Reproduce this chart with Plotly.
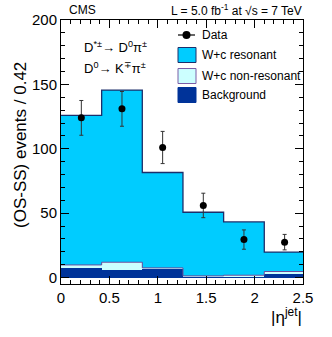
import plotly.graph_objects as go

# |eta^jet| bins of width 0.42
bin_centers = [0.21, 0.63, 1.05, 1.47, 1.89, 2.31]
bin_width = 0.42

# stacked components (OS-SS events / 0.42)
background = [7.3, 6.2, 7.3, 1.0, 0.5, 3.5]
wc_nonres = [2.5, 5.7, 0.2, 0.3, 1.3, 1.2]
wc_res = [116.2, 133.6, 74.1, 49.4, 41.4, 15.1]

data_y = [124, 131, 101, 56, 29.5, 27.5]
data_err = [13.5, 13.5, 12.5, 9.5, 7.5, 6.0]

FONT = 'Liberation Sans, Arial, sans-serif'
RES_COL = '#00ccff'
NONRES_COL = '#ccffff'
BKG_COL = '#003399'
EDGE_COL = '#1c2f6b'

# cumulative tops for outline step lines
cum_nonres = [b + n for b, n in zip(background, wc_nonres)]
cum_total = [c + r for c, r in zip(cum_nonres, wc_res)]
edges = [c - bin_width / 2 for c in bin_centers] + [bin_centers[-1] + bin_width / 2]


def step(vals):
    return vals + [vals[-1]]


traces = [
    go.Bar(x=bin_centers, y=background, width=bin_width, marker=dict(color=BKG_COL, line=dict(width=0)),
           showlegend=False),
    go.Bar(x=bin_centers, y=wc_nonres, width=bin_width, marker=dict(color=NONRES_COL, line=dict(width=0)),
           showlegend=False),
    go.Bar(x=bin_centers, y=wc_res, width=bin_width, marker=dict(color=RES_COL, line=dict(width=0)),
           showlegend=False),
    go.Scatter(x=edges, y=step(cum_nonres), mode='lines', line=dict(shape='hv', color='#6a4c9c', width=1),
               showlegend=False, hoverinfo='skip'),
    go.Scatter(x=edges, y=step(cum_total), mode='lines', line=dict(shape='hv', color=EDGE_COL, width=1.3),
               showlegend=False, hoverinfo='skip'),
    go.Scatter(x=bin_centers, y=data_y, mode='markers',
               marker=dict(color='black', size=7),
               error_y=dict(type='data', array=data_err, color='#333333', thickness=1, width=2),
               showlegend=False),
]

fig = go.Figure(data=traces)


def px_x(p):
    return (p - 61) / 242.0


def px_y(p):
    return (284 - p) / 264.0


shapes = []
annotations = []

# legend: Data
shapes.append(dict(type='line', xref='paper', yref='paper', x0=px_x(178), x1=px_x(195), y0=px_y(35), y1=px_y(35),
                   line=dict(color='black', width=1.2)))
shapes.append(dict(type='circle', xref='paper', yref='paper', x0=px_x(182.5), x1=px_x(190.5), y0=px_y(31), y1=px_y(39),
                   fillcolor='black', line=dict(color='black', width=0)))
legend_items = [('W+c resonant', RES_COL, EDGE_COL, 55),
                ('W+c non-resonant', NONRES_COL, '#7b5ea7', 76),
                ('Background', BKG_COL, BKG_COL, 95)]
for label, fill, edge, yc in legend_items:
    shapes.append(dict(type='rect', xref='paper', yref='paper', x0=px_x(178), x1=px_x(196),
                       y0=px_y(yc + 7.5), y1=px_y(yc - 7.5), fillcolor=fill, line=dict(color=edge, width=1)))
    annotations.append(dict(xref='paper', yref='paper', x=px_x(200), y=px_y(yc), text=label, showarrow=False,
                            xanchor='left', yanchor='middle', font=dict(size=12, family=FONT, color='black')))
annotations.append(dict(xref='paper', yref='paper', x=px_x(200), y=px_y(35), text='Data', showarrow=False,
                        xanchor='left', yanchor='middle', font=dict(size=12, family=FONT, color='black')))

annotations += [
    dict(xref='paper', yref='paper', x=px_x(67), y=px_y(10), text='CMS', showarrow=False,
         xanchor='left', yanchor='middle', font=dict(size=12, family=FONT, color='black')),
    dict(xref='paper', yref='paper', x=px_x(304), y=px_y(10), text='L = 5.0 fb<sup>-1</sup> at √s = 7 TeV',
         showarrow=False, xanchor='right', yanchor='middle', font=dict(size=12, family=FONT, color='black')),
    dict(xref='paper', yref='paper', x=px_x(82), y=px_y(47), text='D<sup>*±</sup>→ D<sup>0</sup>π<sup>±</sup>',
         showarrow=False, xanchor='left', yanchor='middle', font=dict(size=13, family=FONT, color='black')),
    dict(xref='paper', yref='paper', x=px_x(82), y=px_y(68), text='D<sup>0</sup>→ K<sup>∓</sup>π<sup>±</sup>',
         showarrow=False, xanchor='left', yanchor='middle', font=dict(size=13, family=FONT, color='black')),
    dict(xref='paper', yref='paper', x=px_x(304), y=px_y(316), text='|η<sup>jet</sup>|',
         showarrow=False, xanchor='right', yanchor='middle', font=dict(size=17, family=FONT, color='black')),
    dict(xref='paper', yref='paper', x=px_x(20), y=px_y(145), text='(OS-SS) events / 0.42', textangle=-90,
         showarrow=False, xanchor='center', yanchor='middle', font=dict(size=17, family=FONT, color='black')),
]

fig.update_layout(
    width=332,
    height=337,
    barmode='stack',
    bargap=0,
    plot_bgcolor='white',
    paper_bgcolor='white',
    margin=dict(l=61, r=29, t=20, b=53),
    showlegend=False,
    shapes=shapes,
    annotations=annotations,
    font=dict(family=FONT, color='black'),
    xaxis=dict(
        range=[0, 2.5], tickvals=[0, 0.5, 1, 1.5, 2, 2.5], ticktext=['0', '0.5', '1', '1.5', '2', '2.5'],
        ticks='inside', ticklen=8, tickcolor='black', showgrid=False, zeroline=False,
        showline=True, linecolor='black', linewidth=1, mirror='allticks', automargin=False,
        tickfont=dict(size=15, family=FONT),
        minor=dict(dtick=0.1, ticks='inside', ticklen=4, tickcolor='black', showgrid=False),
    ),
    yaxis=dict(
        range=[-5, 200], tickvals=[0, 50, 100, 150, 200],
        ticks='inside', ticklen=8, tickcolor='black', showgrid=False,
        zeroline=True, zerolinecolor='#333333', zerolinewidth=1,
        showline=True, linecolor='black', linewidth=1, mirror='allticks', automargin=False,
        tickfont=dict(size=15, family=FONT),
        minor=dict(dtick=10, ticks='inside', ticklen=4, tickcolor='black', showgrid=False),
    ),
)

fig.write_html('out.html', config={'displayModeBar': False},
               post_script="document.body.style.margin='0';")
